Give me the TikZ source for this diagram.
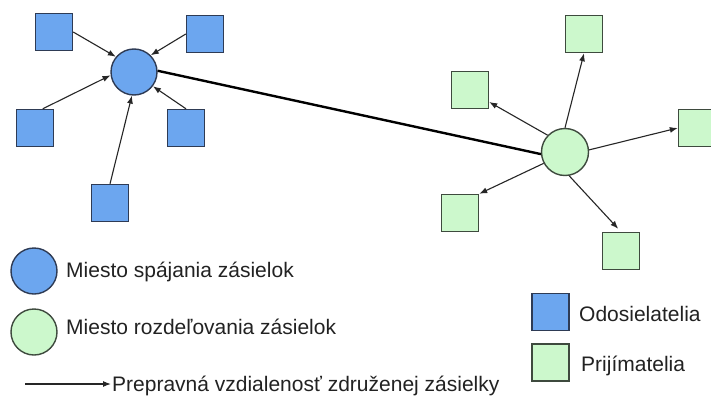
\documentclass[tikz,border=0pt]{standalone}
\usepackage{fontspec}
\setmainfont{Liberation Sans}
\usetikzlibrary{arrows.meta}
\definecolor{bfill}{HTML}{6CA6EF}
\definecolor{bdraw}{HTML}{2E3B55}
\definecolor{gfill}{HTML}{CCF8CC}
\definecolor{gdraw}{HTML}{3E4A3E}
\definecolor{txt}{HTML}{222222}
\tikzset{
  sender/.style={draw=bdraw, fill=bfill, line width=1.4pt, minimum size=37pt, inner sep=0pt, rectangle},
  receiver/.style={draw=gdraw, fill=gfill, line width=1.4pt, minimum size=37pt, inner sep=0pt, rectangle},
  hubB/.style={draw=bdraw, fill=bfill, line width=1.4pt, circle, minimum size=46pt, inner sep=0pt},
  hubG/.style={draw=gdraw, fill=gfill, line width=1.4pt, circle, minimum size=47pt, inner sep=0pt},
  arr/.style={draw=black!85, line width=1.1pt, -{Latex[length=8pt,width=6pt]}},
  thick link/.style={draw=black, line width=2.4pt},
  lbl/.style={anchor=base west, inner sep=0pt, font=\fontsize{21}{24}\selectfont, text=txt}
}
\begin{document}
\begin{tikzpicture}[x=1pt,y=-1pt]
\useasboundingbox (0,0) rectangle (711,396);
\fill[white] (0,0) rectangle (711,396);
% left cluster
\node[hubB] (L) at (134,72) {};
\node[sender] (s1) at (54,32) {};
\node[sender] (s2) at (205,34) {};
\node[sender] (s3) at (35,128) {};
\node[sender] (s4) at (186,128) {};
\node[sender] (s5) at (110,203) {};
\draw[arr] (s1.east) -- (L.140);
\draw[arr] (s2.west) -- (L.45);
\draw[arr] (s3.68) -- (L.188);
\draw[arr] (s4.north) -- (L.-37);
\draw[arr] (s5.north) -- (L.-95);
% right cluster
\node[hubG] (R) at (565,152) {};
\node[receiver] (r1) at (584,34) {};
\node[receiver] (r2) at (470,90) {};
\node[receiver] (r3) at (697,128) {};
\node[receiver] (r4) at (460,213) {};
\node[receiver] (r5) at (621,251) {};
\draw[thick link] (L.3) -- (R.185);
\draw[arr] (R.north) -- (r1.south);
\draw[arr] (R.136) -- (r2.-32);
\draw[arr] (R.5) -- (r3.west);
\draw[arr] (R.208) -- (r4.north east);
\draw[arr, shorten >=4pt] (R.-80) -- (r5.north);
% legend
\node[hubB, minimum size=46pt] (lgB) at (34,271) {};
\node[hubG, minimum size=46pt] (lgG) at (34,332) {};
\node[lbl] (tB) at (66,277) {Miesto spájania zásielok};
\node[lbl] (tG) at (66,334) {Miesto rozdeľovania zásielok};
\coordinate (la) at (25,384);
\coordinate (lb) at (111,384);
\draw[arr] (la) -- (lb);
\node[lbl] (tA) at (112,391) {Prepravná vzdialenosť združenej zásielky};
\node[sender] (lgS) at (550.5,312) {};
\node[receiver] (lgR) at (550.5,362.5) {};
\node[lbl] (tS) at (579,321) {Odosielatelia};
\node[lbl] (tR) at (581,371) {Prijímatelia};
\end{tikzpicture}
\end{document}
